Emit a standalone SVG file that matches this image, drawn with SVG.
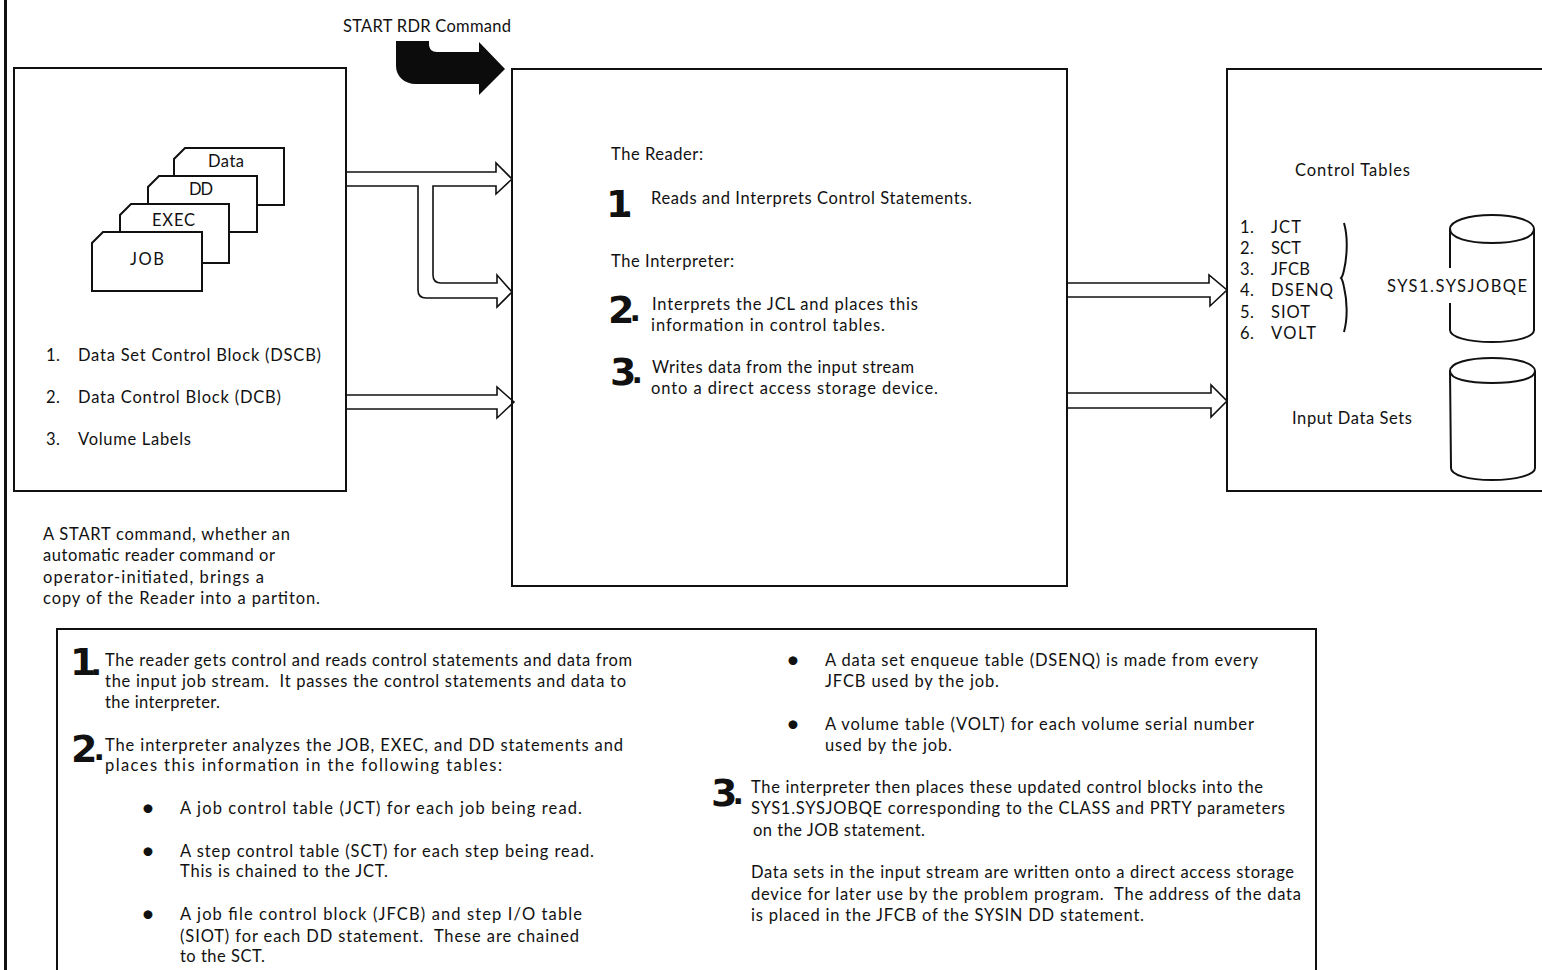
<svg xmlns="http://www.w3.org/2000/svg" width="1542" height="970" viewBox="0 0 1542 970">
<style>
text{font-family:"Lato","Liberation Sans",sans-serif;font-size:16.5px;fill:#111;white-space:pre;transform:translateY(1px)}
.big{font-family:"DejaVu Sans",sans-serif;font-weight:bold;font-size:38px}
.dot{font-size:30px;letter-spacing:0}
.b{font-size:24px}
.s{fill:#fff;stroke:#111;stroke-width:2}
.o{fill:none;stroke:#111;stroke-width:2}
.t{fill:none;stroke:#111;stroke-width:1.6}
</style>
<rect width="1542" height="970" fill="#fff"/>
<path id="rule" d="M5.5 0V970" fill="none" stroke="#111" stroke-width="3"/>

<g id="input-box">
<rect class="s" x="14" y="68" width="332" height="423"/>
<path class="s" d="M174 205V159L185 148H284V205Z"/>
<path class="s" d="M148 232V187L159 176H257V232Z"/>
<path class="s" d="M120 263V215L131 204H229V263Z"/>
<path class="s" d="M92 291V243L103 232H202V291Z"/>
<text x="208" y="166" textLength="36">Data</text>
<text x="189" y="194" textLength="24">DD</text>
<text x="152" y="225" textLength="43">EXEC</text>
<text x="130" y="264" textLength="34">JOB</text>
<text x="46" y="360" textLength="14">1.</text><text x="78" y="360" textLength="243">Data Set Control Block (DSCB)</text>
<text x="46" y="402" textLength="14">2.</text><text x="78" y="402" textLength="203">Data Control Block (DCB)</text>
<text x="46" y="444" textLength="14">3.</text><text x="78" y="444" textLength="113">Volume Labels</text>
</g>

<g id="reader-box">
<rect class="s" x="512" y="69" width="555" height="517"/>
<text x="611" y="159" textLength="92">The Reader:</text>
<text class="big" x="606" y="216" letter-spacing="-11">1<tspan class="dot">.</tspan></text>
<text x="651" y="203" textLength="321">Reads and Interprets Control Statements.</text>
<text x="611" y="266" textLength="123">The Interpreter:</text>
<text class="big" x="608" y="322" letter-spacing="-5">2<tspan class="dot" dy="-2">.</tspan></text>
<text x="652" y="309" textLength="266">Interprets the JCL and places this</text>
<text x="651" y="330" textLength="234">information in control tables.</text>
<text class="big" x="610" y="384" letter-spacing="-5">3<tspan class="dot" dy="-2">.</tspan></text>
<text x="652" y="372" textLength="262">Writes data from the input stream</text>
<text x="651" y="393" textLength="287">onto a direct access storage device.</text>
</g>

<g id="output-box">
<path class="s" d="M1543 69H1227V491H1543"/>
<text x="1295" y="175" textLength="115">Control Tables</text>
<text x="1240" y="232" textLength="14">1.</text><text x="1271" y="232" textLength="30">JCT</text>
<text x="1240" y="253" textLength="14">2.</text><text x="1271" y="253" textLength="30">SCT</text>
<text x="1240" y="274" textLength="14">3.</text><text x="1271" y="274" textLength="39">JFCB</text>
<text x="1240" y="295" textLength="14">4.</text><text x="1271" y="295" textLength="62">DSENQ</text>
<text x="1240" y="317" textLength="14">5.</text><text x="1271" y="317" textLength="39">SIOT</text>
<text x="1240" y="338" textLength="14">6.</text><text x="1271" y="338" textLength="45">VOLT</text>
<path class="o" d="M1344 223C1349 240 1346 262 1344 270C1343 275 1342 277 1341 278C1342 279 1343 282 1344 287C1347 300 1348 318 1344 332"/>
<path class="o" d="M1450 268V229C1450 221 1468 215 1492 215C1516 215 1534 221 1534 229V330C1534 337 1516 342 1492 342C1468 342 1450 337 1450 330V303"/>
<path class="o" d="M1450 229C1450 238 1468 243 1492 243C1516 243 1534 238 1534 229"/>
<text x="1387" y="291" textLength="140">SYS1.SYSJOBQE</text>
<path class="o" d="M1450 371C1450 363 1468 358 1492 358C1516 358 1535 363 1535 371V468C1535 475 1516 480 1492 480C1468 480 1451 475 1451 468Z"/>
<path class="o" d="M1450 371C1450 379 1468 383 1492 383C1516 383 1535 379 1535 371"/>
<text x="1292" y="423" textLength="120">Input Data Sets</text>
</g>

<g id="start-rdr">
<text x="343" y="31" textLength="168">START RDR Command</text>
</g>

<g id="connectors">
<path d="M396 41H429V44C429 49 432 52 437 52H479V42L505 69L479 95V84H416C404 84 396 76 396 66Z" fill="#0c0c0c"/>
<path class="t" d="M346 172H496V163L512 179L496 194V186H433V275C433 280 436 283 441 283H497V275L512 292L497 307V298H426C421 298 418 295 418 290V186H346"/>
<path class="t" d="M346 395H497V387L514 402L497 418V409H346"/>
<path class="t" d="M1067 283H1209V275L1227 290L1210 306V297H1067"/>
<path class="t" d="M1067 393H1211V385L1227 401L1211 417V408H1067"/>
</g>

<g id="caption">
<text x="43" y="539" textLength="247">A START command, whether an</text>
<text x="43" y="560" textLength="232">automatic reader command or</text>
<text x="43" y="582" textLength="221">operator-initiated, brings a</text>
<text x="43" y="603" textLength="277">copy of the Reader into a partiton.</text>
</g>

<g id="notes">
<path class="s" d="M57 971V629H1316V971"/>
<text class="big" x="70" y="674" letter-spacing="-6">1<tspan class="dot">.</tspan></text>
<text x="105" y="665" textLength="527">The reader gets control and reads control statements and data from</text>
<text x="105" y="686" textLength="521">the input job stream.  It passes the control statements and data to</text>
<text x="105" y="707" textLength="115">the interpreter.</text>
<text class="big" x="71" y="761" letter-spacing="-4">2<tspan class="dot" dy="-2">.</tspan></text>
<text x="105" y="750" textLength="518">The interpreter analyzes the JOB, EXEC, and DD statements and</text>
<text x="105" y="770" textLength="397">places this information in the following tables:</text>
<text class="b" x="141" y="815">•</text><text x="180" y="813" textLength="402">A job control table (JCT) for each job being read.</text>
<text class="b" x="141" y="858">•</text><text x="180" y="856" textLength="414">A step control table (SCT) for each step being read.</text>
<text x="180" y="876" textLength="208">This is chained to the JCT.</text>
<text class="b" x="141" y="921">•</text><text x="180" y="919" textLength="402">A job file control block (JFCB) and step I/O table</text>
<text x="180" y="941" textLength="399">(SIOT) for each DD statement.  These are chained</text>
<text x="180" y="961" textLength="85">to the SCT.</text>
<text class="b" x="786" y="667">•</text><text x="825" y="665" textLength="433">A data set enqueue table (DSENQ) is made from every</text>
<text x="825" y="686" textLength="174">JFCB used by the job.</text>
<text class="b" x="786" y="731">•</text><text x="825" y="729" textLength="429">A volume table (VOLT) for each volume serial number</text>
<text x="825" y="750" textLength="127">used by the job.</text>
<text class="big" x="711" y="805" letter-spacing="-5">3<tspan class="dot" dy="-2">.</tspan></text>
<text x="751" y="792" textLength="512">The interpreter then places these updated control blocks into the</text>
<text x="751" y="813" textLength="534">SYS1.SYSJOBQE corresponding to the CLASS and PRTY parameters</text>
<text x="753" y="835" textLength="172">on the JOB statement.</text>
<text x="751" y="877" textLength="543">Data sets in the input stream are written onto a direct access storage</text>
<text x="751" y="899" textLength="550">device for later use by the problem program.  The address of the data</text>
<text x="751" y="920" textLength="393">is placed in the JFCB of the SYSIN DD statement.</text>
</g>
</svg>
